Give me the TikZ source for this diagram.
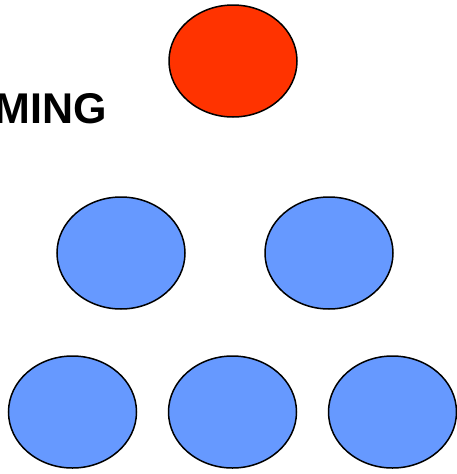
\documentclass[tikz,border=0pt]{standalone}
\usepackage{fontspec}
\setmainfont{Liberation Sans}
\usetikzlibrary{shapes.geometric}
\definecolor{dotred}{HTML}{FF3300}
\definecolor{dotblue}{HTML}{6699FF}
\tikzset{
  dot/.style={ellipse, draw=black, line width=1.5pt, minimum width=128pt, minimum height=112pt, inner sep=0pt},
  reddot/.style={dot, fill=dotred},
  bluedot/.style={dot, fill=dotblue}
}
\begin{document}
\begin{tikzpicture}[x=1pt,y=-1pt]
			\useasboundingbox (0,0) rectangle (457,474);
			\clip (0,0) rectangle (457,474);
			\node[reddot] (top) at (233,61) {};
			\node[anchor=base east, inner sep=0pt, font=\fontsize{43}{48}\selectfont\bfseries] (word) at (107,123) {MING};
			\node[bluedot] (midl) at (121,253) {};
			\node[bluedot] (midr) at (329,253) {};
			\node[bluedot] (botl) at (72.5,412) {};
			\node[bluedot] (botm) at (232.5,412) {};
			\node[bluedot] (botr) at (392.5,412) {};
		\end{tikzpicture}
\end{document}
